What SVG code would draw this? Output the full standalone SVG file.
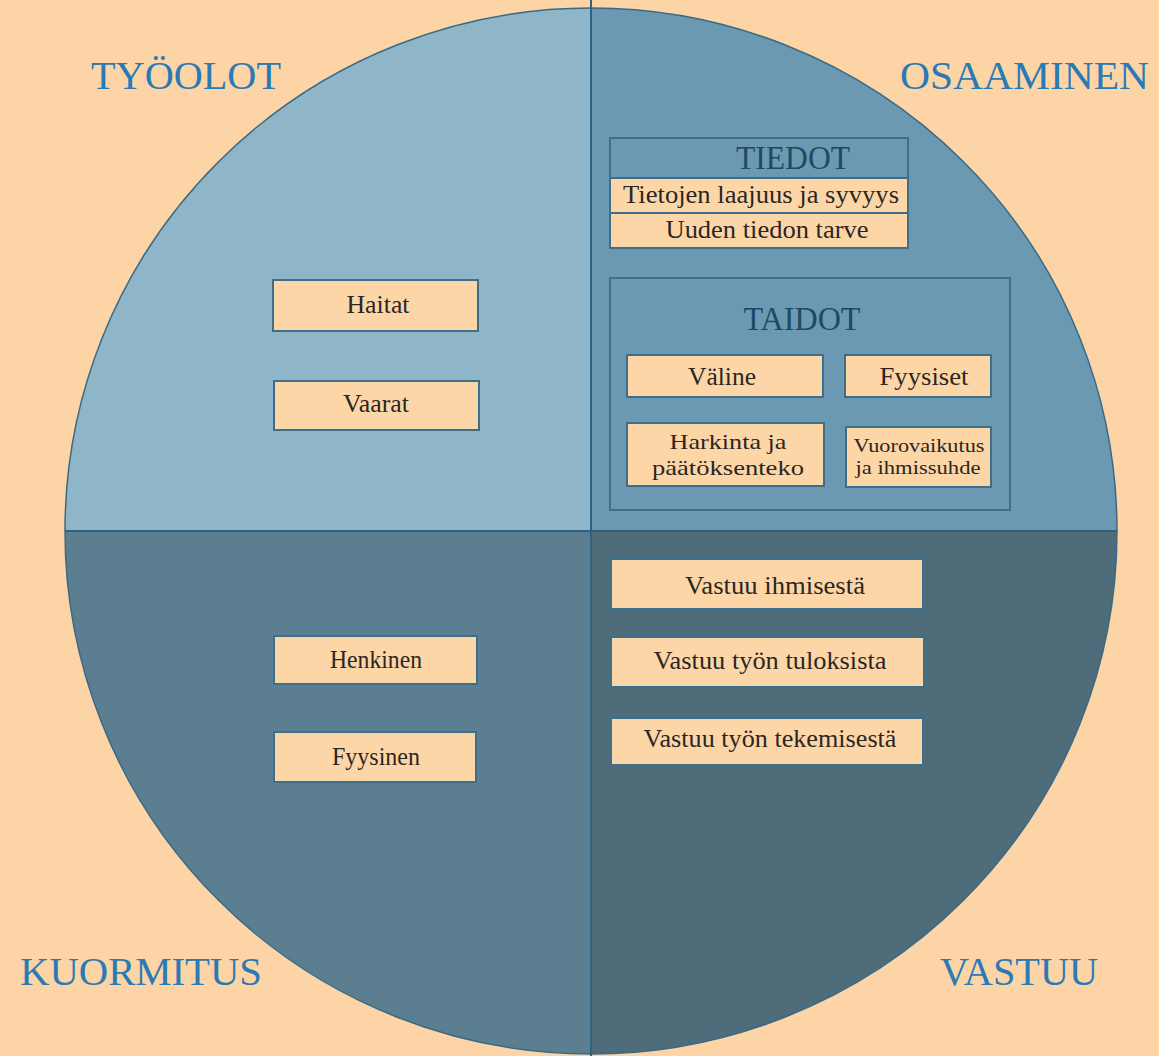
<svg xmlns="http://www.w3.org/2000/svg" width="1159" height="1056" viewBox="0 0 1159 1056">
<style>
.bg{fill:#fdd4a6}
.box{fill:#fdd6a8;stroke:#3d6f8b;stroke-width:2}
.frame{fill:none;stroke:#3d6f8b;stroke-width:2}
.t{font-family:"Liberation Serif","Times New Roman",serif;fill:#2b2622;text-anchor:middle;font-size:25px}
.m{font-size:22px}
.s{font-size:18px}
.title{font-family:"Liberation Serif","Times New Roman",serif;fill:#2a7ab5;font-size:40px}
.head{font-family:"Liberation Serif","Times New Roman",serif;fill:#1d4a66;font-size:33px;text-anchor:middle}
.div{stroke:#2f627e;stroke-width:2}
</style>
<rect class="bg" x="0" y="0" width="1159" height="1056"/>
<g id="circle">
<path d="M591 531 L65 531 A526 523 0 0 1 591 8 Z" fill="#8fb5c8"/>
<path d="M591 531 L591 8 A526 523 0 0 1 1117 531 Z" fill="#6c99b2"/>
<path d="M591 531 L1117 531 A526 523 0 0 1 591 1054 Z" fill="#4f6c7b"/>
<path d="M591 531 L591 1054 A526 523 0 0 1 65 531 Z" fill="#5b7f91"/>
<ellipse cx="591" cy="531" rx="526" ry="523" fill="none" stroke="#3a6a85" stroke-width="1.5"/>
</g>
<g id="dividers">
<line class="div" x1="591" y1="0" x2="591" y2="1056"/>
<line class="div" x1="65" y1="531" x2="1117" y2="531"/>
</g>
<g id="titles">
<text class="title" x="91" y="89" textLength="190" lengthAdjust="spacingAndGlyphs">TYÖOLOT</text>
<text class="title" x="900" y="89" textLength="249" lengthAdjust="spacingAndGlyphs">OSAAMINEN</text>
<text class="title" x="20" y="985" textLength="242" lengthAdjust="spacingAndGlyphs">KUORMITUS</text>
<text class="title" x="940" y="985" textLength="158" lengthAdjust="spacingAndGlyphs">VASTUU</text>
</g>
<g id="haitat">
<rect class="box" x="273" y="280" width="205" height="51"/>
<text class="t" x="378" y="313" textLength="63" lengthAdjust="spacingAndGlyphs">Haitat</text>
</g>
<g id="vaarat">
<rect class="box" x="274" y="381" width="205" height="49"/>
<text class="t" x="376" y="412" textLength="66" lengthAdjust="spacingAndGlyphs">Vaarat</text>
</g>
<g id="henkinen">
<rect class="box" x="274" y="636" width="203" height="48"/>
<text class="t" x="376" y="668" textLength="92" lengthAdjust="spacingAndGlyphs">Henkinen</text>
</g>
<g id="fyysinen">
<rect class="box" x="274" y="732" width="202" height="50"/>
<text class="t" x="376" y="765" textLength="88" lengthAdjust="spacingAndGlyphs">Fyysinen</text>
</g>
<g id="tiedot">
<rect x="610" y="138" width="298" height="110" fill="#6c99b2" stroke="#3d6f8b" stroke-width="2"/>
<rect x="611" y="178" width="296" height="34" fill="#fdd6a8"/>
<rect x="611" y="214" width="296" height="33" fill="#fdd6a8"/>
<line x1="610" y1="178" x2="908" y2="178" stroke="#3d6f8b" stroke-width="2"/>
<line x1="610" y1="213" x2="908" y2="213" stroke="#3d6f8b" stroke-width="2"/>
<text class="head" x="793" y="169" textLength="114" lengthAdjust="spacingAndGlyphs">TIEDOT</text>
<text class="t" x="761" y="203" textLength="276" lengthAdjust="spacingAndGlyphs">Tietojen laajuus ja syvyys</text>
<text class="t" x="767" y="238" textLength="203" lengthAdjust="spacingAndGlyphs">Uuden tiedon tarve</text>
</g>
<g id="taidot">
<rect class="frame" x="610" y="278" width="400" height="232"/>
<text class="head" x="802" y="330" textLength="117" lengthAdjust="spacingAndGlyphs">TAIDOT</text>
</g>
<g id="valine">
<rect class="box" x="627" y="355" width="196" height="42"/>
<text class="t" x="722" y="385" textLength="68" lengthAdjust="spacingAndGlyphs">Väline</text>
</g>
<g id="fyysiset">
<rect class="box" x="845" y="355" width="146" height="42"/>
<text class="t" x="924" y="385" textLength="89" lengthAdjust="spacingAndGlyphs">Fyysiset</text>
</g>
<g id="harkinta">
<rect class="box" x="627" y="423" width="197" height="63"/>
<text class="t m" x="728" y="449" textLength="117" lengthAdjust="spacingAndGlyphs">Harkinta ja</text>
<text class="t m" x="728" y="475" textLength="152" lengthAdjust="spacingAndGlyphs">päätöksenteko</text>
</g>
<g id="vuorovaikutus">
<rect class="box" x="846" y="427" width="145" height="60"/>
<text class="t s" x="919" y="452" textLength="131" lengthAdjust="spacingAndGlyphs">Vuorovaikutus</text>
<text class="t s" x="918" y="474" textLength="125" lengthAdjust="spacingAndGlyphs">ja ihmissuhde</text>
</g>
<g id="vastuu-ihmisesta">
<rect class="box" x="611" y="559" width="312" height="50"/>
<text class="t" x="775" y="594" textLength="180" lengthAdjust="spacingAndGlyphs">Vastuu ihmisestä</text>
</g>
<g id="vastuu-tuloksista">
<rect class="box" x="611" y="637" width="313" height="50"/>
<text class="t" x="770" y="669" textLength="233" lengthAdjust="spacingAndGlyphs">Vastuu työn tuloksista</text>
</g>
<g id="vastuu-tekemisesta">
<rect class="box" x="611" y="718" width="312" height="47"/>
<text class="t" x="770" y="747" textLength="253" lengthAdjust="spacingAndGlyphs">Vastuu työn tekemisestä</text>
</g>
</svg>
